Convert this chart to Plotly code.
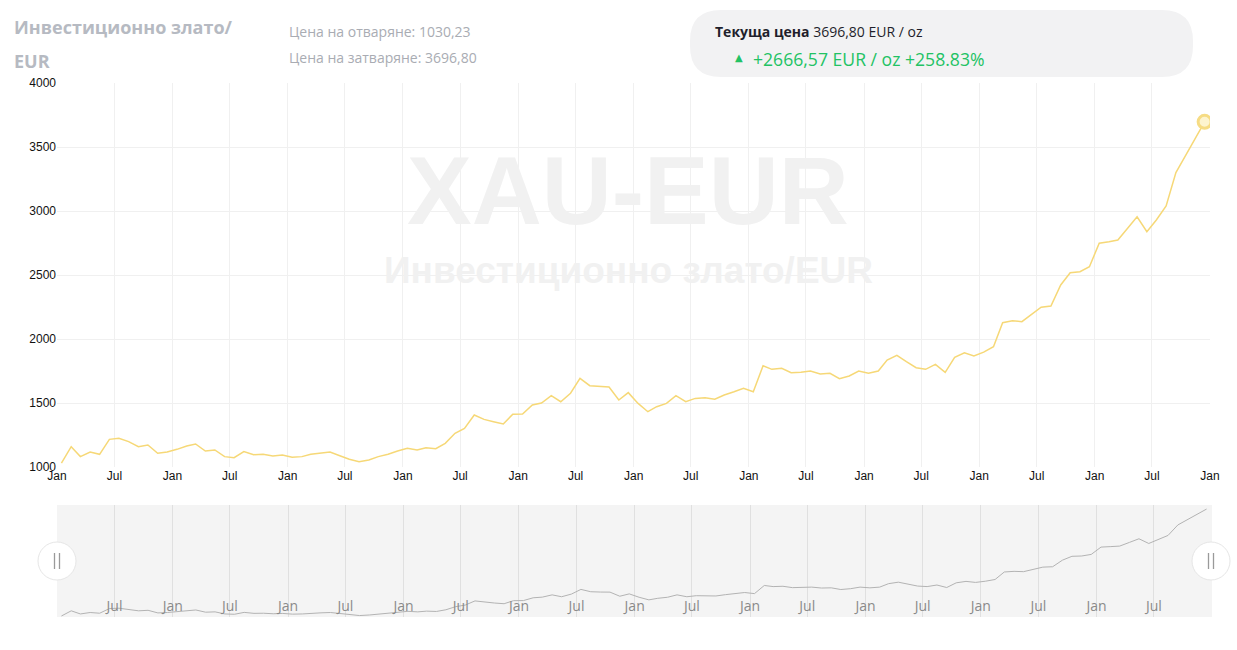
import pandas as pd
import plotly.graph_objects as go

# --- data (monthly, mid-month) ---
dates = pd.date_range("2016-01-01", periods=120, freq="MS") + pd.Timedelta(days=14)
prices = [
    1030.23, 1159, 1081, 1117, 1099, 1216, 1224, 1198, 1159, 1172, 1107, 1117,
    1138, 1164, 1180, 1125, 1133, 1081, 1073, 1120, 1096, 1099, 1086, 1094,
    1076, 1081, 1099, 1109, 1117, 1088, 1060, 1041, 1055, 1081, 1099, 1125,
    1146, 1133, 1151, 1143, 1185, 1263, 1302, 1406, 1372, 1354, 1336, 1412,
    1414, 1484, 1500, 1557, 1510, 1576, 1693, 1635, 1627, 1625, 1523, 1581,
    1497, 1432, 1471, 1497, 1557, 1510, 1536, 1541, 1529, 1562, 1588, 1615,
    1588, 1791, 1763, 1771, 1737, 1740, 1750, 1727, 1732, 1690, 1711, 1750,
    1732, 1750, 1836, 1873, 1823, 1776, 1763, 1802, 1740, 1857, 1893, 1867,
    1897, 1940, 2127, 2143, 2135, 2193, 2248, 2258, 2422, 2518, 2526, 2565,
    2748, 2760, 2773, 2865, 2955, 2838, 2930, 3039, 3300, 3430, 3565, 3696.80,
]
y_ticks = [1000, 1500, 2000, 2500, 3000, 3500, 4000]

symbol = "XAU-EUR"
name = "Инвестиционно злато/EUR"
unit = "EUR / oz"

open_price = prices[0]
close_price = prices[-1]
change = close_price - open_price
change_pct = change / open_price * 100


def bg(v):
    # bulgarian style decimal comma
    return f"{v:.2f}".replace(".", ",")


# --- pixel helpers (figure is 1237x650 with zero margins) ---
W, H = 1237, 650


def px(x):
    return x / W


def py(y):
    return 1 - y / H


def pill_path(x0, y0, x1, y1, r):
    pts = [
        ("M", [(x0 + r, y0)]), ("L", [(x1 - r, y0)]), ("Q", [(x1, y0), (x1, y0 + r)]),
        ("L", [(x1, y1 - r)]), ("Q", [(x1, y1), (x1 - r, y1)]), ("L", [(x0 + r, y1)]),
        ("Q", [(x0, y1), (x0, y1 - r)]), ("L", [(x0, y0 + r)]), ("Q", [(x0, y0), (x0 + r, y0)]),
    ]
    out = ""
    for cmd, coords in pts:
        out += cmd + " " + " ".join(f"{px(a):.5f},{py(b):.5f}" for a, b in coords) + " "
    return out + "Z"


GOLD = "#f6d877"
GREEN = "#22c264"
FONT = "Open Sans"

fig = go.Figure()

# main series
fig.add_trace(go.Scatter(
    x=dates, y=prices, mode="lines",
    line=dict(color=GOLD, width=1.5),
    xaxis="x", yaxis="y", hoverinfo="skip",
))
# last point marker
fig.add_trace(go.Scatter(
    x=[dates[-1]], y=[prices[-1]], mode="markers",
    marker=dict(size=13, color="#fdf4cf", line=dict(color="#f6dc84", width=3)),
    xaxis="x", yaxis="y", hoverinfo="skip",
))
# navigator series
fig.add_trace(go.Scatter(
    x=dates, y=prices, mode="lines",
    line=dict(color="#b3b3b3", width=1),
    xaxis="x2", yaxis="y2", hoverinfo="skip",
))

x_range = ["2016-01-01", "2026-01-01"]

shapes = [
    # header pill
    dict(type="path", xref="paper", yref="paper", path=pill_path(690, 10, 1193, 77, 31),
         fillcolor="#f2f2f3", line=dict(width=0), layer="below"),
    # navigator background
    dict(type="rect", xref="paper", yref="paper", x0=px(57), x1=px(1212), y0=py(617), y1=py(505),
         fillcolor="#f4f4f4", line=dict(width=0), layer="below"),
]
# navigator handles
for cx in (57, 1211):
    shapes.append(dict(type="circle", xref="paper", yref="paper",
                       x0=px(cx - 19), x1=px(cx + 19), y0=py(580), y1=py(542),
                       fillcolor="white", line=dict(color="#e6e6e6", width=1)))
    for dx in (-2.5, 2.5):
        shapes.append(dict(type="line", xref="paper", yref="paper",
                           x0=px(cx + dx), x1=px(cx + dx), y0=py(553), y1=py(569),
                           line=dict(color="#9a9a9a", width=1.3)))

annotations = [
    # watermark
    dict(text="<b>" + symbol + "</b>", x=px(628), y=py(190), font=dict(size=97, color="#f1f1f1", family="Liberation Sans")),
    dict(text="<b>" + name + "</b>", x=px(628), y=py(270), font=dict(size=37, color="#f1f1f1", family="Liberation Sans")),
    # header left
    dict(text="<b>Инвестиционно злато/</b>", x=px(12), y=py(27), xanchor="left",
         font=dict(size=18, color="#b6bac2", family=FONT)),
    dict(text="<b>EUR</b>", x=px(12), y=py(61), xanchor="left",
         font=dict(size=18, color="#b6bac2", family=FONT)),
    dict(text="Цена на отваряне: " + bg(open_price), x=px(287), y=py(31), xanchor="left",
         font=dict(size=14, color="#a9acb3", family=FONT)),
    dict(text="Цена на затваряне: " + bg(close_price), x=px(287), y=py(57), xanchor="left",
         font=dict(size=14, color="#a9acb3", family=FONT)),
    # header pill
    dict(text="<b>Текуща цена</b> " + bg(close_price) + " " + unit, x=px(713), y=py(31), xanchor="left",
         font=dict(size=14, color="#1f1f2b", family=FONT)),
    dict(text="▲", x=px(733), y=py(58), xanchor="left",
         font=dict(size=10, color=GREEN, family="DejaVu Sans")),
    dict(text=f"+{bg(change)} {unit} +{change_pct:.2f}%", x=px(751), y=py(59), xanchor="left",
         font=dict(size=17.6, color=GREEN, family=FONT)),
]
for a in annotations:
    a.update(xref="paper", yref="paper", showarrow=False)
    a.setdefault("xanchor", "center")
    a.setdefault("yanchor", "middle")

fig.update_layout(
    width=W, height=H,
    margin=dict(l=0, r=0, t=0, b=0, pad=0),
    paper_bgcolor="white", plot_bgcolor="rgba(0,0,0,0)",
    showlegend=False,
    shapes=shapes, annotations=annotations,
    xaxis=dict(
        domain=[px(57), px(1210)], range=x_range, type="date",
        tick0="2016-01-01", dtick="M6", tickformat="%b",
        showgrid=True, gridcolor="#f0f0f0", gridwidth=1,
        showline=False, zeroline=False, ticks="",
        tickfont=dict(size=12, color="#111", family="Liberation Sans"),
        anchor="y", automargin=False,
    ),
    yaxis=dict(
        domain=[py(467), py(83)], range=[1000, 4000], tickvals=y_ticks,
        showgrid=True, gridcolor="#f0f0f0", zeroline=False, showline=False, ticks="",
        tickfont=dict(size=12, color="#111", family="Liberation Sans"),
        anchor="x", automargin=False,
    ),
    xaxis2=dict(
        domain=[px(57), px(1212)], range=x_range, type="date",
        tick0="2016-01-01", dtick="M6", tickformat="%b",
        showgrid=True, gridcolor="#e0e0e0", gridwidth=1,
        showline=False, zeroline=False, ticks="",
        ticklabelposition="inside", ticklabeloverflow="hide past domain",
        tickfont=dict(size=14, color="#8a8a8a", family=FONT),
        anchor="y2", automargin=False,
    ),
    yaxis2=dict(
        domain=[py(617), py(505)], range=[1005, 3797],
        showgrid=False, showticklabels=False, zeroline=False, showline=False,
        anchor="x2", automargin=False,
    ),
)

fig.write_html("out.html", config={"displayModeBar": False},
               post_script="document.body.style.margin='0';")
